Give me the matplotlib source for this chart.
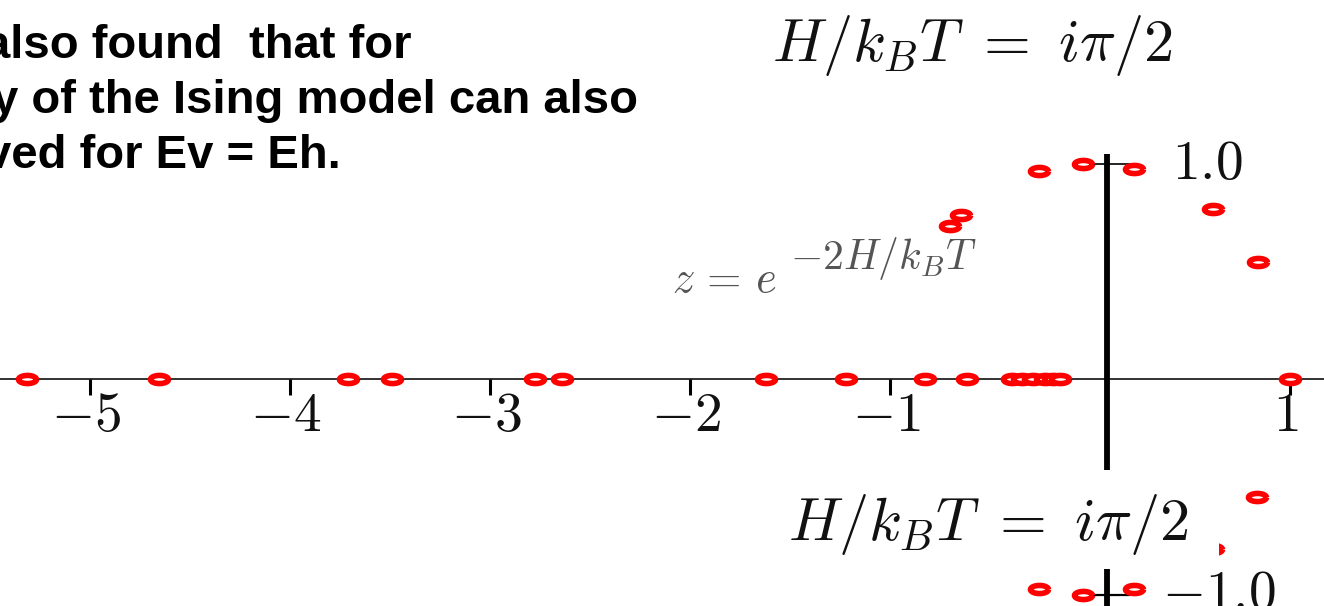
import matplotlib
matplotlib.use("Agg")
import matplotlib.pyplot as plt
import numpy as np
from matplotlib.path import Path
from matplotlib.patches import Rectangle

plt.rcParams["mathtext.fontset"] = "cm"

# zeros on the real axis
real_zeros = [-5.315, -4.655, -3.71, -3.49, -2.775, -2.64, -1.62, -1.22,
              -0.825, -0.615, -0.39, -0.34, -0.285, -0.225, -0.185, -0.15, 1.0]

# zeros on the unit circle, upper half plane
upper_re = [-0.70, -0.645, -0.255, -0.035, 0.22, 0.615, 0.84]
upper_im = [0.712, 0.763, 0.967, 1.0, 0.976, 0.789, 0.546]

# lower half plane
lower_re = [-0.70, -0.645, -0.254, -0.034, 0.221, 0.615, 0.835]
lower_im = [-0.712, -0.763, -0.975, -1.005, -0.979, -0.789, -0.550]

xticks = [-5, -4, -3, -2, -1, 1]
xtick_labels = [r"$-5$", r"$-4$", r"$-3$", r"$-2$", r"$-1$", r"$1$"]

lines = ["also found  that for",
         "y of the Ising model can also",
         "ved for Ev = Eh."]
line_x = [-16, -8, -15]

fig = plt.figure(figsize=(13.24, 6.06), dpi=100)
ax = fig.add_axes([0, 0, 1, 1])
ax.set_xlim(-5.45, 1.17)
ax.set_ylim(-1.056, 1.763)
ax.axis("off")

# flattened blob marker with a small hole
t = np.linspace(0, 2 * np.pi, 40)
ring = Path(np.column_stack([np.cos(t), 0.45 * np.sin(t)]))

# real axis with ticks
ax.axhline(0, color="#222222", lw=1.3, zorder=1)
ax.vlines(xticks, -0.074, 0, color="k", lw=2.2, zorder=1)
for xt, lab in zip(xticks, xtick_labels):
    ax.text(xt - 0.02, -0.045, lab, ha="center", va="top", fontsize=40, color="#111111")

# imaginary axis
y_axis_x = 0.085
ax.vlines(y_axis_x, -1.1, 1.047, color="k", lw=4.2, zorder=1)
ax.hlines([1.0], -0.01, 0.205, color="k", lw=1.2, zorder=1)
ax.hlines([-1.005], -0.085, 0.2, color="k", lw=1.6, zorder=1)
ax.text(0.41, 1.0, r"$1.0$", ha="left", va="center", fontsize=40, color="#111111")
ax.text(0.36, -1.0, r"$-1.0$", ha="left", va="center", fontsize=40, color="#111111")

mk = dict(marker=ring, ms=13, mfc="white", mec="red", mew=4, ls="none", zorder=3)
ax.plot(real_zeros, np.zeros(len(real_zeros)), **mk)
ax.plot(upper_re, upper_im, **mk)
ax.plot(lower_re, lower_im, **mk)

formula = r"$H/k_BT\ =\ i\pi/2$"
ax.text(-1.59, 1.48, formula, ha="left", va="baseline",
        fontsize=43.5, color="#111111")
low = ax.text(-1.51, -0.749, formula, ha="left", va="baseline",
              fontsize=43.5, color="#111111", zorder=5)

# white backing box for the lower label, it hides the axis behind it
fig.canvas.draw()
bb = low.get_window_extent()
ax.add_patch(Rectangle((bb.x0 - 15, bb.y0 - 12), bb.width + 15 + 30, bb.height + 12 + 22,
                       transform=None, fc="white", ec="none", zorder=4))

# z = exp(-2H/kT), exponent set larger than the default script size
ax.text(-2.09, 0.405, r"$z\,=\,e$", ha="left", va="baseline",
        fontsize=32, color="#555555")
ax.text(-1.50, 0.51, r"$-2H/k_BT$", ha="left", va="baseline",
        fontsize=30, color="#555555")

for i, s in enumerate(lines):
    fig.text(line_x[i] / 1324, 1 - (58 + 55 * i) / 606, s, ha="left", va="baseline",
             fontsize=34, fontweight="bold", family="Liberation Sans")

fig.savefig("out.png", dpi=100)
